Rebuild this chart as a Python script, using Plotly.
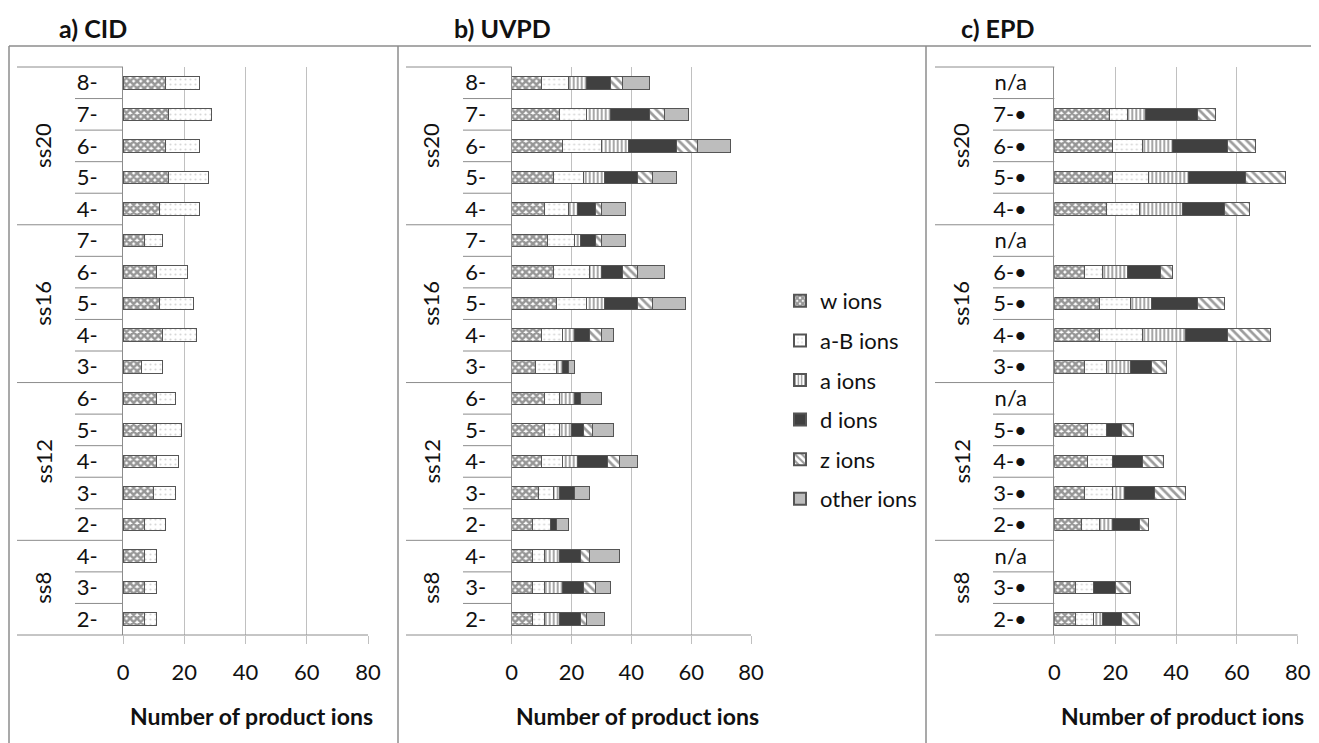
import plotly.graph_objects as go

# ---------------- data ----------------
groups = ["ss20", "ss16", "ss12", "ss8"]
group_sizes = [5, 5, 5, 3]

charges_cid_uvpd = ["8-", "7-", "6-", "5-", "4-",
                    "7-", "6-", "5-", "4-", "3-",
                    "6-", "5-", "4-", "3-", "2-",
                    "4-", "3-", "2-"]
charges_epd = ["n/a", "7-•", "6-•", "5-•", "4-•",
               "n/a", "6-•", "5-•", "4-•", "3-•",
               "n/a", "5-•", "4-•", "3-•", "2-•",
               "n/a", "3-•", "2-•"]

ion_types = ["w ions", "a-B ions", "a ions", "d ions", "z ions", "other ions"]

# CID
cid_w  = [14, 15, 14, 15, 12, 7, 11, 12, 13, 6, 11, 11, 11, 10, 7, 7, 7, 7]
cid_aB = [11, 14, 11, 13, 13, 6, 10, 11, 11, 7, 6, 8, 7, 7, 7, 4, 4, 4]

# UVPD
uvpd_w     = [10, 16, 17, 14, 11, 12, 14, 15, 10, 8, 11, 11, 10, 9, 7, 7, 7, 7]
uvpd_aB    = [9, 9, 13, 10, 8, 9, 12, 10, 7, 7, 5, 5, 7, 5, 6, 4, 4, 4]
uvpd_a     = [6, 8, 9, 7, 3, 2, 4, 6, 4, 2, 5, 4, 5, 2, 0, 5, 6, 5]
uvpd_d     = [8, 13, 16, 11, 6, 5, 7, 11, 5, 2, 2, 4, 10, 5, 2, 7, 7, 7]
uvpd_z     = [4, 5, 7, 5, 2, 2, 5, 5, 4, 0, 0, 3, 4, 0, 0, 3, 4, 2]
uvpd_other = [9, 8, 11, 8, 8, 8, 9, 11, 4, 2, 7, 7, 6, 5, 4, 10, 5, 6]

# EPD (n/a rows = 0)
epd_w     = [0, 18, 19, 19, 17, 0, 10, 15, 15, 10, 0, 11, 11, 10, 9, 0, 7, 7]
epd_aB    = [0, 6, 10, 12, 11, 0, 6, 10, 14, 7, 0, 6, 8, 9, 6, 0, 6, 6]
epd_a     = [0, 6, 10, 13, 14, 0, 8, 7, 14, 8, 0, 0, 0, 4, 4, 0, 0, 3]
epd_d     = [0, 17, 18, 19, 14, 0, 11, 15, 14, 7, 0, 5, 10, 10, 9, 0, 7, 6]
epd_z     = [0, 6, 9, 13, 8, 0, 4, 9, 14, 5, 0, 4, 7, 10, 3, 0, 5, 6]
epd_other = [0] * 18

x_ticks = [0, 20, 40, 60, 80]

# ---------------- styles ----------------
# page body has an 8px margin, so the figure is sized to fit the window
OFF = 8
W, H = 1319 - OFF, 743 - OFF
FONT = "Lato, 'Open Sans', sans-serif"
LINE = "#8c8c8c"
GRID = "#c0c0c0"
TXT = "#111111"

styles = {
    "w ions":     dict(color="white", pattern=dict(shape="x", fgcolor="#2e2e2e", bgcolor="white", size=5, solidity=0.75, fillmode="overlay")),
    "a-B ions":   dict(color="white", pattern=dict(shape=".", fgcolor="#b0b0b0", bgcolor="white", size=5, solidity=0.15, fillmode="overlay")),
    "a ions":     dict(color="white", pattern=dict(shape="|", fgcolor="#3a3a3a", bgcolor="white", size=4, solidity=0.45, fillmode="overlay")),
    "d ions":     dict(color="#404040"),
    "z ions":     dict(color="white", pattern=dict(shape="\\", fgcolor="#3a3a3a", bgcolor="white", size=6, solidity=0.45, fillmode="overlay")),
    "other ions": dict(color="#bdbdbd"),
}

def px(x):
    return (x - OFF) / W

def py(y):
    return 1 - (y - OFF) / H

PLOT_TOP, PLOT_BOT = 67, 635

panels = [
    dict(name="a) CID", x0=123, x1=368, short=75, glong=17, glab=43, title_x=93,
         labels=charges_cid_uvpd, series=[cid_w, cid_aB], standoff=20),
    dict(name="b) UVPD", x0=511.7, x1=751, short=463, glong=406, glab=431, title_x=502,
         labels=charges_cid_uvpd, series=[uvpd_w, uvpd_aB, uvpd_a, uvpd_d, uvpd_z, uvpd_other], standoff=20),
    dict(name="c) EPD", x0=1054.3, x1=1297.7, short=993, glong=935, glab=961, title_x=997,
         labels=charges_epd, series=[epd_w, epd_aB, epd_a, epd_d, epd_z, epd_other], standoff=22),
]

fig = go.Figure()
n_rows = sum(group_sizes)
rows = list(range(n_rows))

shapes = []
annotations = []

for i, p in enumerate(panels):
    k = i + 1
    xa = "x" if k == 1 else f"x{k}"
    ya = "y" if k == 1 else f"y{k}"
    for j, vals in enumerate(p["series"]):
        name = ion_types[j]
        st = styles[name]
        vv = [v if v else None for v in vals]
        marker = dict(color=st["color"], line=dict(color="#555555", width=1))
        if "pattern" in st:
            marker["pattern"] = st["pattern"]
        fig.add_trace(go.Bar(
            x=vv, y=rows, orientation="h", name=name, marker=marker,
            width=0.4, xaxis=xa, yaxis=ya,
            showlegend=(k == 2), legendgroup=name,
        ))
    w = p["x1"] - p["x0"]
    dom = [px(p["x0"]), px(p["x1"])]
    fig.layout[f"xaxis{'' if k == 1 else k}"] = dict(
        domain=dom, range=[0, 80], tickvals=x_ticks, showgrid=True, gridcolor=GRID,
        gridwidth=1, zeroline=False, showline=False, ticks="outside", ticklen=8,
        tickcolor=GRID, tickfont=dict(size=22, color=TXT, family=FONT),
        ticklabelstandoff=10, anchor=ya, fixedrange=True, automargin=False,
    )
    fig.layout[f"yaxis{'' if k == 1 else k}"] = dict(
        domain=[py(PLOT_BOT), py(PLOT_TOP)], range=[n_rows - 0.5, -0.5],
        tickvals=rows, ticktext=p["labels"], showgrid=False, zeroline=False,
        showline=True, linecolor=LINE, linewidth=1, ticks="",
        tickfont=dict(size=22, color=TXT, family=FONT),
        ticklabelstandoff=p["standoff"], anchor=xa, fixedrange=True, automargin=False,
    )
    xd = f"{xa} domain"
    short_d = (p["short"] - p["x0"]) / w
    long_d = (p["glong"] - p["x0"]) / w
    # row separators
    boundaries = set()
    acc = 0
    for gs in group_sizes:
        acc += gs
        boundaries.add(acc)
    for b in range(1, n_rows):
        x0d = long_d if b in boundaries else short_d
        shapes.append(dict(type="line", xref=xd, yref=ya, x0=x0d, x1=0,
                           y0=b - 0.5, y1=b - 0.5, line=dict(color=LINE, width=1)))
    # top and bottom lines
    shapes.append(dict(type="line", xref=xd, yref=f"{ya} domain", x0=long_d, x1=0,
                       y0=1, y1=1, line=dict(color=LINE, width=1)))
    shapes.append(dict(type="line", xref=xd, yref=f"{ya} domain", x0=long_d, x1=1,
                       y0=0, y1=0, line=dict(color=LINE, width=1)))
    # group labels
    start = 0
    for g, gs in zip(groups, group_sizes):
        annotations.append(dict(text=g, xref="paper", yref=ya, x=px(p["glab"]),
                                y=start + (gs - 1) / 2, textangle=-90, showarrow=False,
                                font=dict(size=22, color=TXT, family=FONT),
                                xanchor="center", yanchor="middle"))
        start += gs
    # panel title
    annotations.append(dict(text=f"<b>{p['name']}</b>", xref="paper", yref="paper",
                            x=px(p["title_x"]), y=py(28), showarrow=False,
                            font=dict(size=25, color=TXT, family=FONT),
                            xanchor="center", yanchor="middle"))
    # axis title
    annotations.append(dict(text="<b>Number of product ions</b>", xref="paper", yref="paper",
                            x=px((p["x0"] + p["x1"]) / 2 + 6), y=py(716), showarrow=False,
                            font=dict(size=23, color=TXT, family=FONT),
                            xanchor="center", yanchor="middle"))

# panel frames
BOX = "#8c8c8c"
shapes.append(dict(type="line", xref="paper", yref="paper", x0=px(9), x1=1, y0=py(46), y1=py(46),
                   line=dict(color=BOX, width=1.5)))
for xv in [9, 398, 926]:
    shapes.append(dict(type="line", xref="paper", yref="paper", x0=px(xv), x1=px(xv),
                       y0=py(46), y1=0, line=dict(color=BOX, width=1.5)))

fig.update_layout(
    width=W, height=H, margin=dict(l=0, r=0, t=0, b=0, pad=0, autoexpand=False),
    paper_bgcolor="white", plot_bgcolor="white",
    barmode="stack", bargap=0.6,
    font=dict(family=FONT, color=TXT),
    shapes=shapes, annotations=annotations,
    legend=dict(x=px(780), y=py(280), xanchor="left", yanchor="top",
                font=dict(size=22, family=FONT, color=TXT),
                tracegroupgap=8, bgcolor="rgba(0,0,0,0)", itemsizing="constant"),
    showlegend=True,
)

fig.write_html("out.html")
